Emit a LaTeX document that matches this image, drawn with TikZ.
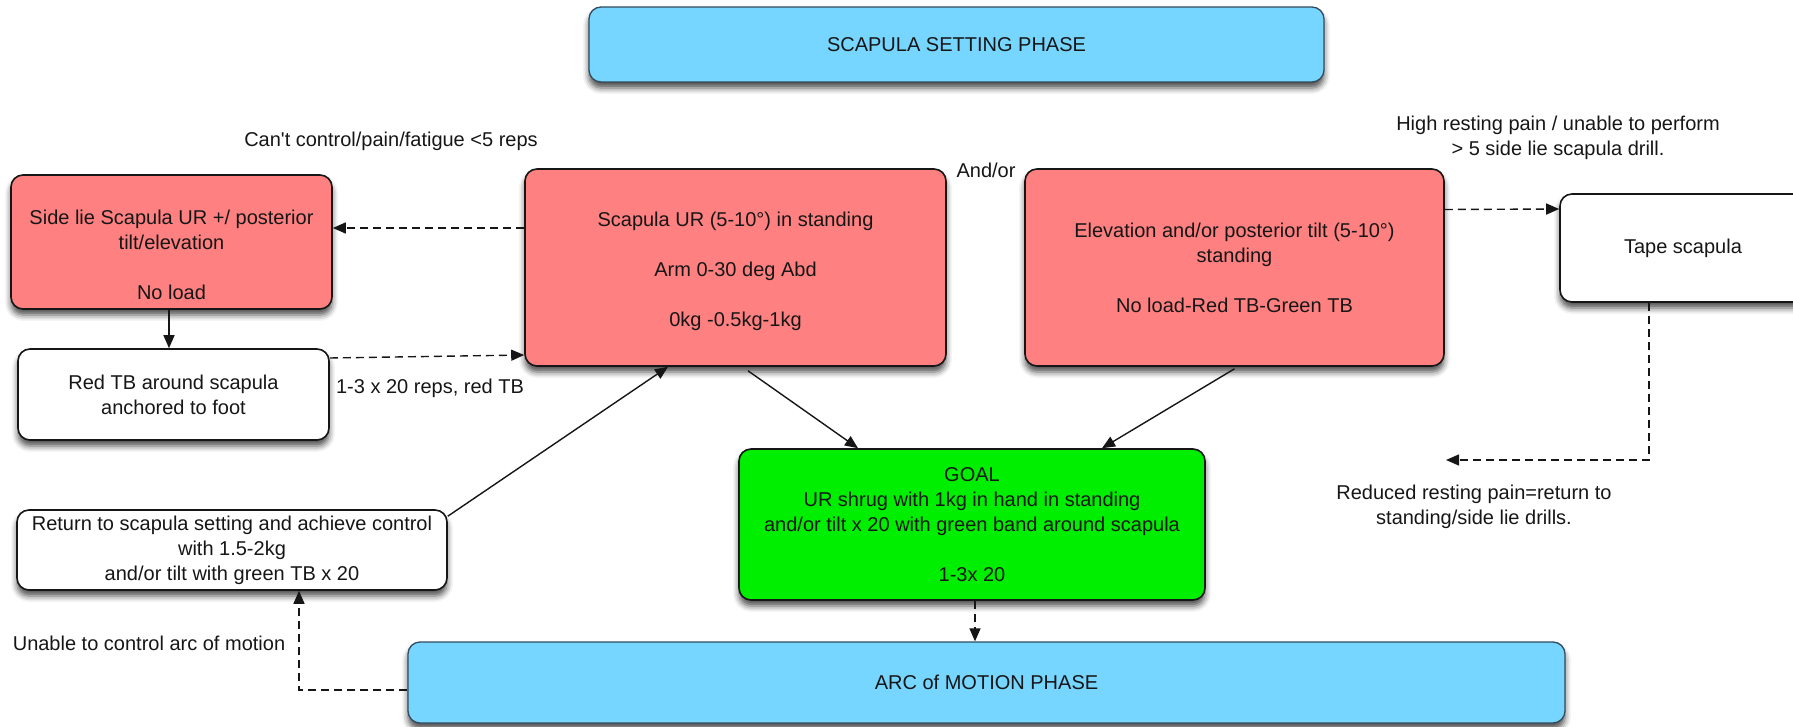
\documentclass[tikz,border=0pt]{standalone}
\usepackage{fontspec}
\setmainfont{Liberation Sans}
\usetikzlibrary{arrows.meta,shadows.blur,calc}
\definecolor{boxred}{RGB}{255,128,128}
\definecolor{boxblue}{RGB}{118,214,255}
\definecolor{boxgreen}{RGB}{0,238,0}
\definecolor{ink}{RGB}{22,22,22}
\definecolor{blueedge}{RGB}{50,75,95}
\begin{document}
\begin{tikzpicture}[x=1pt,y=-1pt,
  every node/.style={font=\fontsize{20}{25}\selectfont, text=ink},
  box/.style={draw=ink, line width=1.6pt, rounded corners=12pt, align=center, inner sep=0pt,
    blur shadow={shadow xshift=0pt, shadow yshift=-6pt, shadow blur radius=6pt, shadow opacity=70}},
  redbox/.style={box, fill=boxred},
  whitebox/.style={box, fill=white},
  greenbox/.style={box, fill=boxgreen},
  bluebox/.style={box, fill=boxblue, draw=blueedge, line width=1.3pt},
  conn/.style={draw=ink, line width=1.4pt, -{Triangle[length=13pt,width=11pt]}},
  dconn/.style={conn, dash pattern=on 8pt off 5pt},
  lbl/.style={align=center, inner sep=0pt}
]
\useasboundingbox (0,0) rectangle (1793,727);
\begin{scope}
\clip (0,0) rectangle (1793,727);

% boxes
\node[bluebox, minimum width=735pt, minimum height=75pt] (top) at (956.5,44.5) {SCAPULA SETTING PHASE};
\node[redbox, minimum width=321pt, minimum height=134pt] (sidelie) at (171.5,242)
  {\mbox{}\\[16pt]Side lie Scapula UR +/ posterior\\tilt/elevation\\[25pt]No load};
\node[whitebox, minimum width=311pt, minimum height=91pt] (redtb) at (173.5,394.5)
  {Red TB around scapula\\anchored to foot};
\node[redbox, minimum width=421pt, minimum height=197pt] (scur) at (735.5,267.5)
  {\mbox{}\\[-3.5pt]Scapula UR (5-10°) in standing\\[25pt]Arm 0-30 deg Abd\\[25pt]0kg -0.5kg-1kg};
\node[redbox, minimum width=419pt, minimum height=197pt] (elev) at (1234.5,267.5)
  {Elevation and/or posterior tilt (5-10°)\\standing\\[25pt]No load-Red TB-Green TB};
\node[whitebox, minimum width=246pt, minimum height=108pt] (tape) at (1683,248) {Tape scapula};
\node[greenbox, minimum width=466pt, minimum height=151pt] (goal) at (972,524.5)
  {GOAL\\UR shrug with 1kg in hand in standing\\and/or tilt x 20 with green band around scapula\\[25pt]1-3x 20};
\node[whitebox, minimum width=430pt, minimum height=80pt] (ret) at (232,550)
  {Return to scapula setting and achieve control\\with 1.5-2kg\\and/or tilt with green TB x 20};
\node[bluebox, minimum width=1157pt, minimum height=81pt] (arc) at (986.5,682.5) {ARC of MOTION PHASE};

% labels
\node[lbl] (l1) at (391,141) {Can\textquotesingle t control/pain/fatigue <5 reps};
\node[lbl] (l2) at (430,388) {1-3 x 20 reps, red TB};
\node[lbl] (l3) at (986,170) {And/or};
\node[lbl] (l4) at (1558,137.5) {High resting pain / unable to perform\\> 5 side lie scapula drill.};
\node[lbl] (l5) at (1474,506.5) {Reduced resting pain=return to\\standing/side lie drills.};
\node[lbl] (l6) at (149,643) {Unable to control arc of motion};

\coordinate (redend) at (1446,460);

% connectors
\draw[dconn] ([yshift=39.5pt]scur.west) -- ([yshift=14pt]sidelie.east);
\draw[conn] ([xshift=-2.5pt]sidelie.south) -- ([xshift=-4.5pt]redtb.north);
\draw[dconn] ([yshift=36.5pt]redtb.east) -- ([yshift=-87.5pt]scur.west);
\draw[conn] ([yshift=-7pt]ret.north east) -- ([xshift=-67.5pt]scur.south);
\draw[conn] ([xshift=12.5pt,yshift=-4pt]scur.south) -- ([xshift=-114pt]goal.north);
\draw[conn] ([yshift=-2pt]elev.south) -- ([xshift=130pt]goal.north);
\draw[dconn] ([yshift=58pt]elev.east) -- ([yshift=39pt]tape.west);
\draw[dconn] ([xshift=-34pt]tape.south) |- (redend);
\draw[dconn] ([xshift=3pt]goal.south) -- ([xshift=3pt]goal.south |- arc.north);
\draw[dconn] ([yshift=-7.5pt]arc.west) -| ([xshift=67pt]ret.south);
\end{scope}
\end{tikzpicture}
\end{document}
